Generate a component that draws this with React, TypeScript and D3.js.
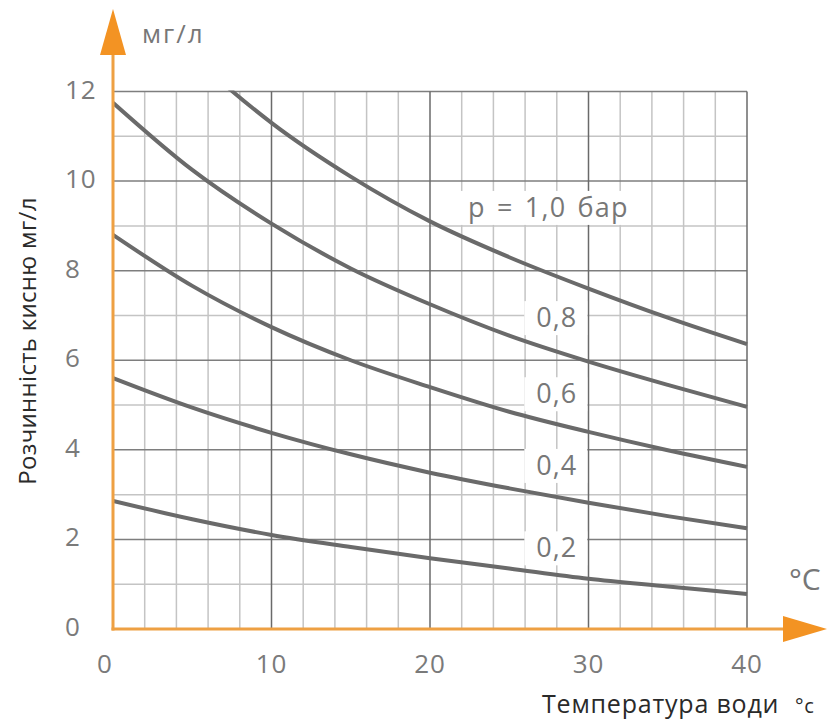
import React, { useRef, useEffect } from 'react';
import * as d3 from 'd3';

// water temperature, °C
const temps = [0, 5, 10, 15, 20, 25, 30, 35, 40];

// oxygen solubility, mg/l, for each pressure curve
const p10 = [14.6, 12.8, 11.3, 10.1, 9.1, 8.3, 7.6, 6.95, 6.36];
const p08 = [11.75, 10.25, 9.05, 8.05, 7.25, 6.55, 5.97, 5.45, 4.96];
const p06 = [8.8, 7.66, 6.74, 6.0, 5.4, 4.85, 4.4, 3.99, 3.62];
const p04 = [5.6, 4.94, 4.38, 3.9, 3.49, 3.14, 2.82, 2.52, 2.25];
const p02 = [2.86, 2.45, 2.1, 1.83, 1.58, 1.35, 1.12, 0.95, 0.78];

const series = [p10, p08, p06, p04, p02];

// curve labels: text, temperature and value where they sit
const labelText = ['p = 1,0 бар', '0,8', '0,6', '0,4', '0,2'];
const labelT = [22.4, 28, 28, 28, 28];
const labelV = [9.2, 6.74, 5.04, 3.44, 1.6];

const xTicks = [0, 10, 20, 30, 40];
const yTicks = [0, 2, 4, 6, 8, 10, 12];

const ORANGE = '#f39323';
const FONT = "'Open Sans', sans-serif";

const Chart: React.FC = () => {
    const svgRef = useRef<SVGSVGElement | null>(null);

    useEffect(() => {
        const svg = d3.select(svgRef.current);
        svg.selectAll('*').remove();

        const x = d3.scaleLinear().domain([0, 40]).range([113, 747]);
        const y = d3.scaleLinear().domain([0, 12]).range([629, 91.5]);

        svg.append('rect').attr('width', 827).attr('height', 722).attr('fill', '#fff');

        // grid
        const grid = svg.append('g');
        const vLines = d3.range(2, 41, 2);
        const hLines = d3.range(1, 13, 1);
        grid.selectAll('line.vminor')
            .data(vLines.filter(d => d % 10 !== 0))
            .join('line')
            .attr('x1', d => x(d)).attr('x2', d => x(d))
            .attr('y1', y(0)).attr('y2', y(12))
            .attr('stroke', '#c4c4c4').attr('stroke-width', 1.5);
        grid.selectAll('line.hminor')
            .data(hLines.filter(d => d % 2 !== 0))
            .join('line')
            .attr('x1', x(0)).attr('x2', x(40))
            .attr('y1', d => y(d)).attr('y2', d => y(d))
            .attr('stroke', '#c4c4c4').attr('stroke-width', 1.5);
        grid.selectAll('line.hmajor')
            .data(hLines.filter(d => d % 2 === 0))
            .join('line')
            .attr('x1', x(0)).attr('x2', x(40))
            .attr('y1', d => y(d)).attr('y2', d => y(d))
            .attr('stroke', '#7e7e7e').attr('stroke-width', 1.5);
        grid.selectAll('line.vmajor')
            .data(vLines.filter(d => d % 10 === 0))
            .join('line')
            .attr('x1', d => x(d)).attr('x2', d => x(d))
            .attr('y1', y(0)).attr('y2', y(12))
            .attr('stroke', '#6a6a6a').attr('stroke-width', 1.5);

        // curve labels with white boxes behind them
        const labels = svg.append('g');
        labelText.forEach((t, i) => {
            const g = labels.append('g');
            const txt = g.append('text')
                .attr('x', x(labelT[i]))
                .attr('y', y(labelV[i]))
                .attr('text-anchor', i === 0 ? 'start' : 'middle')
                .attr('font-family', FONT)
                .attr('font-size', i === 0 ? 27 : 27)
                .attr('letter-spacing', i === 0 ? 1.2 : 1)
                .attr('word-spacing', 3)
                .attr('fill', '#777')
                .text(t);
            const bb = (txt.node() as SVGTextElement).getBBox();
            g.insert('rect', 'text')
                .attr('x', bb.x - 12)
                .attr('y', bb.y + 3)
                .attr('width', bb.width + 22)
                .attr('height', bb.height - 3)
                .attr('fill', '#fff');
        });

        // curves
        svg.append('clipPath').attr('id', 'plot-clip')
            .append('rect')
            .attr('x', x(0)).attr('y', y(12) - 1)
            .attr('width', x(40) - x(0) + 2).attr('height', y(0) - y(12) + 2);

        const line = d3.line<number>()
            .x((_, i) => x(temps[i]))
            .y(d => y(d))
            .curve(d3.curveMonotoneX);

        svg.append('g').attr('clip-path', 'url(#plot-clip)')
            .selectAll('path')
            .data(series)
            .join('path')
            .attr('d', d => line(d))
            .attr('fill', 'none')
            .attr('stroke', '#6a6a6a')
            .attr('stroke-width', 4);

        // orange axes with arrow heads
        svg.append('line')
            .attr('x1', x(0)).attr('x2', x(0))
            .attr('y1', y(0) + 1.5).attr('y2', 50)
            .attr('stroke', '#eea043').attr('stroke-width', 3);
        svg.append('line')
            .attr('x1', x(0) - 1.5).attr('x2', 790)
            .attr('y1', y(0)).attr('y2', y(0))
            .attr('stroke', '#eea043').attr('stroke-width', 3);
        svg.append('path')
            .attr('d', `M${x(0)},9 L${x(0) + 13},55 L${x(0) - 13},55 Z`)
            .attr('fill', ORANGE);
        svg.append('path')
            .attr('d', `M827,${y(0)} L783,${y(0) - 13} L783,${y(0) + 13} Z`)
            .attr('fill', ORANGE);

        // tick labels
        svg.append('g')
            .selectAll('text')
            .data(xTicks)
            .join('text')
            .attr('x', d => x(d) + (d === 0 ? -8 : 0))
            .attr('y', 673)
            .attr('text-anchor', 'middle')
            .attr('font-family', FONT)
            .attr('font-size', 26)
            .attr('letter-spacing', 1)
            .attr('fill', '#7a7a7a')
            .text(d => d);
        svg.append('g')
            .selectAll('text')
            .data(yTicks)
            .join('text')
            .attr('x', 65)
            .attr('y', d => y(d) + 7)
            .attr('font-family', FONT)
            .attr('font-size', 26)
            .attr('letter-spacing', 1)
            .attr('fill', '#7a7a7a')
            .text(d => d);

        // units and titles
        svg.append('text')
            .attr('x', 142).attr('y', 43)
            .attr('font-family', FONT).attr('font-size', 26)
            .attr('letter-spacing', 2)
            .attr('fill', '#777')
            .text('мг/л');
        svg.append('text')
            .attr('x', 789).attr('y', 590)
            .attr('font-family', FONT).attr('font-size', 30)
            .attr('fill', '#777')
            .text('°C');
        svg.append('text')
            .attr('transform', 'translate(36,341) rotate(-90)')
            .attr('text-anchor', 'middle')
            .attr('font-family', FONT).attr('font-size', 24)
            .attr('letter-spacing', 0.3)
            .attr('fill', '#2a2a2a')
            .text('Розчинність кисню мг/л');
        const xt = svg.append('text')
            .attr('x', 542).attr('y', 713)
            .attr('font-family', FONT).attr('font-size', 25)
            .attr('letter-spacing', 0.8)
            .attr('fill', '#2a2a2a');
        xt.append('tspan').text('Температура води');
        xt.append('tspan').attr('x', 795).attr('font-size', 20).text('°c');
    }, []);

    return (
        <svg
            ref={svgRef}
            width={827}
            height={722}
            style={{ position: 'absolute', left: 0, top: 0 }}
        />
    );
};

export default function App() {
    return <Chart />;
}
